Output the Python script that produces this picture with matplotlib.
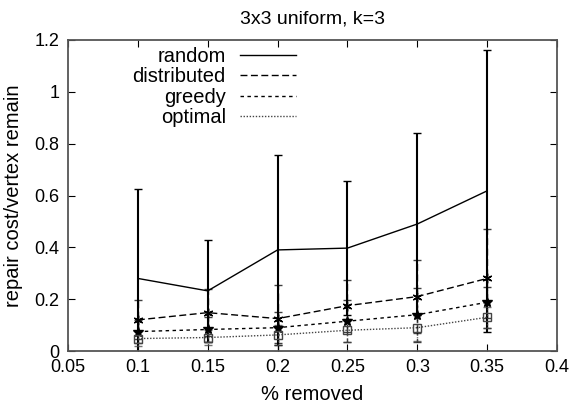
import matplotlib
matplotlib.use("Agg")
import matplotlib.pyplot as plt
from matplotlib.lines import Line2D

plt.rcParams['font.family'] = ['Liberation Sans', 'DejaVu Sans']

# data
removed = [0.1, 0.15, 0.2, 0.25, 0.3, 0.35]

random_mean = [0.28, 0.232, 0.39, 0.397, 0.49, 0.618]
random_err = [0.345, 0.198, 0.368, 0.26, 0.35, 0.545]

distributed_mean = [0.12, 0.148, 0.125, 0.175, 0.21, 0.28]
distributed_err = [0.075, 0.09, 0.13, 0.10, 0.14, 0.19]

greedy_mean = [0.075, 0.083, 0.09, 0.115, 0.14, 0.188]
greedy_err = [0.045, 0.05, 0.06, 0.08, 0.105, 0.06]

optimal_mean = [0.048, 0.052, 0.062, 0.08, 0.09, 0.13]
optimal_err = [0.03, 0.03, 0.04, 0.045, 0.05, 0.04]

series = [
    ("random", random_mean, random_err, "-", None, "black"),
    ("distributed", distributed_mean, distributed_err, (0, (5, 2.5)), (6, 2, 0), "black"),
    ("greedy", greedy_mean, greedy_err, (0, (2.5, 2.5)), "*", "black"),
    ("optimal", optimal_mean, optimal_err, (0, (1, 1.2)), "s", "#444444"),
]

fig = plt.figure(figsize=(5.69, 4.09), dpi=100)
ax = fig.add_axes([68 / 569, 1 - 351 / 409, (557 - 68) / 569, (351 - 40) / 409])

for name, y, e, ls, mk, col in series:
    cont = ax.errorbar(removed, y, yerr=e, color=col, ls=ls, lw=1.0,
                       marker=mk, ms=7 if mk != "s" else 6,
                       mfc="none" if mk == "s" else col,
                       mec=col, mew=1.0, capsize=3,
                       elinewidth=1.5 if name == "random" else 1.0)
    if name != "random":
        for bl in cont[2]:
            bl.set_linestyle(ls)
            bl.set_alpha(0.75)
        for cap in cont[1]:
            cap.set_alpha(0.75)

# gnuplot-style key: text right, line sample left of it
handles = [Line2D([], [], color=c, ls=ls, lw=1.0) for _, _, _, ls, _, c in series]
ax.legend(handles, [s[0] for s in series], loc="upper left", bbox_to_anchor=(0.095, 1.035),
          frameon=False, markerfirst=False, handlelength=2.8, handletextpad=0.7,
          labelspacing=0.06, fontsize=14.5)

ax.set_xlim(0.05, 0.4)
ax.set_ylim(0, 1.2)
ax.set_xticks([0.05, 0.1, 0.15, 0.2, 0.25, 0.3, 0.35, 0.4])
ax.set_xticklabels(["0.05", "0.1", "0.15", "0.2", "0.25", "0.3", "0.35", "0.4"])
ax.set_yticks([0, 0.2, 0.4, 0.6, 0.8, 1.0, 1.2])
ax.set_yticklabels(["0", "0.2", "0.4", "0.6", "0.8", "1", "1.2"])
ax.tick_params(direction="in", top=True, right=True, labelsize=13, length=5, pad=6)
for sp in ax.spines.values():
    sp.set_color("#555555")
    sp.set_linewidth(1.3)

ax.set_xlabel("% removed", fontsize=14.5, labelpad=6)
ax.set_ylabel("repair cost/vertex remain", fontsize=14.5, labelpad=8)
ax.set_title("3x3 uniform, k=3", fontsize=14, pad=12)

fig.savefig("out.png", dpi=100)
